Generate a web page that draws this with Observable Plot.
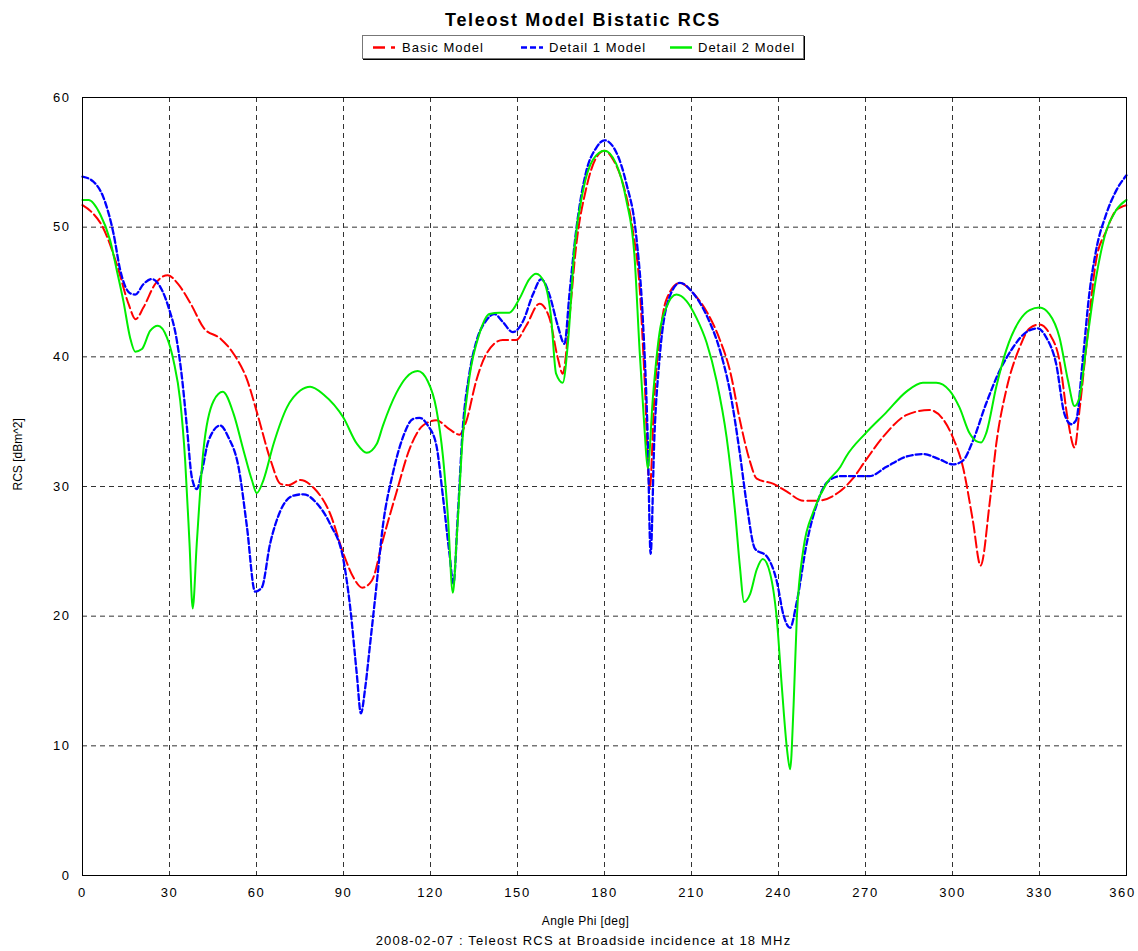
<!DOCTYPE html>
<html>
<head>
<meta charset="utf-8">
<script src="https://cdn.jsdelivr.net/npm/d3@7"></script>
<script src="https://cdn.jsdelivr.net/npm/@observablehq/plot@0.6"></script>
<style>
  html, body { margin: 0; padding: 0; background: #fff; }
  body { width: 1138px; height: 951px; position: relative; font-family: "Liberation Sans", Arial, sans-serif; overflow: hidden; }
  #title { position: absolute; left: 0; top: 10px; width: 1166px; text-align: center; font-weight: bold; font-size: 18px; letter-spacing: 1.7px; color: #000; }
  #legend { position: absolute; left: 362px; top: 35px; width: 440px; height: 22px; border: 1px solid #777; box-shadow: 1px 1px 0 #000; background: #fff; font-size: 13px; letter-spacing: 1px; }
  #legend .item { position: absolute; top: 0; height: 23px; line-height: 23px; white-space: nowrap; }
  #legend svg { position: absolute; top: 0; }
  #chart { position: absolute; left: 0; top: 65px; }
</style>
</head>
<body>
<div id="title">Teleost Model Bistatic RCS</div>
<div id="legend"></div>
<div id="chart"></div>
<script>
// ---- data ----
const xTicks = [0, 30, 60, 90, 120, 150, 180, 210, 240, 270, 300, 330, 360];
const yTicks = [0, 10, 20, 30, 40, 50, 60];

const basicPhi = [0, 3, 7, 12, 16, 18.3, 21, 25, 29.4, 33, 37.3, 41.9, 47.6, 52.2, 56.8, 60.3, 64.9, 68.3, 71, 75.1, 79.7, 85.4, 90, 93.4, 96.5, 99.8, 103.6, 108.2, 112.8, 117.4, 122, 126.6, 130, 132.3, 135.7, 139.2, 144.9, 149.5, 153, 157.6, 161, 163.9, 165.6, 167.9, 170.2, 173.7, 177, 180, 183, 186.3, 189.8, 192.1, 193.8, 195.6, 197.2, 199, 201.3, 206, 210.6, 215.2, 219.8, 223.3, 226.7, 230.2, 232.5, 238.3, 242.9, 248.6, 253.3, 261, 265.6, 270, 277.1, 284, 292, 296.7, 300.1, 303.6, 307, 309.7, 312.8, 315.1, 318.5, 323.1, 326.6, 330, 333.4, 336.9, 339.8, 342.1, 343.8, 346.1, 349.5, 353, 356.4, 360];
const basicRcs = [51.7, 51.2, 50.0, 47.0, 44.0, 42.9, 43.8, 45.6, 46.3, 45.6, 44.1, 42.2, 41.4, 40.2, 38.2, 35.6, 32.0, 30.2, 30.1, 30.5, 29.9, 27.9, 24.8, 23.0, 22.2, 22.75, 25.9, 29.5, 32.9, 34.7, 35.1, 34.4, 34.0, 35.0, 38.1, 40.2, 41.3, 41.3, 42.4, 44.1, 43.0, 39.9, 38.7, 43.0, 48.5, 53.0, 55.3, 55.9, 55.2, 53.4, 49.7, 45.4, 38.4, 29.8, 36.9, 41.4, 44.4, 45.7, 44.9, 43.5, 41.3, 38.9, 35.1, 31.9, 30.6, 30.2, 29.6, 28.9, 28.9, 29.6, 30.6, 32.0, 34.1, 35.5, 35.9, 35.2, 33.8, 31.5, 27.4, 23.9, 28.7, 33.3, 37.4, 40.7, 42.2, 42.5, 41.8, 39.7, 35.1, 33.0, 35.9, 40.7, 47.4, 49.7, 51.3, 51.7];

const detail1Phi = [0, 3.8, 7.2, 10.7, 13, 16.4, 18.2, 21, 23.9, 26.8, 29.7, 32.5, 34.3, 36, 37.7, 39.4, 41.2, 43.4, 47.5, 50.3, 53.8, 56.7, 59.5, 61.8, 64.7, 68.2, 72.8, 76.2, 80.8, 85.4, 90, 92.3, 94.6, 96, 97.5, 99, 101.3, 103.6, 107, 110.5, 113.9, 116.2, 119.1, 122, 124.3, 126.6, 127.9, 129.4, 131.1, 133.4, 135.7, 139.2, 142.1, 144.9, 148.4, 151.8, 155.3, 158.2, 161, 163.9, 166.2, 167.9, 170.2, 173.7, 177.1, 180, 184, 187.5, 190.9, 193.2, 194.9, 195.9, 197.2, 199, 202.4, 206, 210.6, 215.2, 219.8, 223.3, 226.7, 229, 231.9, 236, 239.4, 241.7, 244, 246.3, 249.8, 253.3, 256.7, 261.3, 266.8, 271.4, 277.1, 284, 289.8, 295.5, 300.1, 303.6, 307, 311.6, 316.2, 320.8, 325.4, 329.4, 332.3, 335.7, 338.6, 340.9, 342.6, 344.9, 347.2, 349.5, 353, 356.4, 360];
const detail1Rcs = [53.9, 53.5, 52.3, 49.5, 46.7, 44.9, 44.8, 45.6, 46.0, 45.4, 43.8, 41.3, 38.4, 34.6, 30.7, 29.8, 31.2, 33.5, 34.7, 33.8, 31.5, 26.9, 21.9, 22.2, 25.6, 28.1, 29.3, 29.4, 28.7, 27.1, 24.3, 20.7, 15.5, 12.5, 14.5, 17.5, 22.2, 27.0, 31.0, 33.8, 35.2, 35.3, 34.7, 33.2, 29.2, 24.7, 22.5, 27.7, 34.4, 38.7, 41.1, 42.8, 43.3, 42.7, 41.9, 42.7, 44.8, 46.0, 44.8, 42.4, 41.0, 44.8, 49.7, 54.3, 56.1, 56.7, 55.8, 53.4, 49.4, 43.0, 33.8, 24.8, 33.8, 39.9, 44.6, 45.7, 44.9, 43.2, 40.5, 37.3, 32.5, 28.7, 25.2, 24.6, 22.7, 20.1, 19.1, 21.1, 25.7, 28.7, 30.3, 30.8, 30.8, 30.8, 31.5, 32.3, 32.5, 32.1, 31.7, 32.0, 33.5, 36.4, 38.9, 40.7, 41.9, 42.2, 41.5, 39.5, 35.6, 34.8, 35.1, 39.7, 44.9, 48.2, 51.0, 52.8, 54.0];

const detail2Phi = [0, 2.1, 6.1, 9.5, 11.8, 14.1, 16.4, 18.2, 20.5, 23.3, 26, 29.1, 31.4, 33.7, 35.4, 36.9, 38, 39.4, 41.7, 45.2, 48.4, 52.1, 55.5, 58.4, 60.1, 62.4, 65.9, 70.5, 75.1, 78.5, 83.1, 90, 94.6, 98, 101.5, 103.6, 108.2, 111.6, 115.6, 119.1, 122, 124.3, 126, 127.7, 129.1, 131.1, 133.4, 136.9, 140.3, 143.8, 147.2, 150.7, 154.1, 156.4, 159.3, 161.6, 163.3, 165.6, 167.4, 169.7, 172.5, 176, 180, 184, 187.5, 190.3, 192.1, 193.8, 194.9, 196.7, 199, 201.3, 204.8, 208.3, 211.7, 215.2, 218.7, 222.1, 225, 226.7, 228.1, 230.2, 232.5, 234.6, 237.1, 239.4, 241.2, 242.9, 244, 245.2, 246.3, 248.6, 252.1, 256.7, 261.3, 263.3, 270, 277.1, 284, 289.8, 294.4, 299, 302.4, 305.9, 308.2, 309.9, 311.6, 315.1, 318.5, 323.1, 326.6, 330, 333.4, 336.9, 339.8, 342.1, 343.8, 346.1, 349.5, 353, 356.4, 360];
const detail2Rcs = [52.1, 52.1, 51.0, 49.0, 46.7, 44.3, 41.5, 40.4, 40.6, 42.0, 42.4, 41.5, 39.7, 36.6, 32.0, 25.6, 20.6, 25.6, 32.8, 36.6, 37.3, 35.6, 32.8, 30.5, 29.5, 30.5, 33.3, 36.1, 37.4, 37.7, 37.1, 35.3, 33.3, 32.6, 33.3, 34.7, 37.2, 38.4, 38.9, 38.1, 36.0, 32.3, 27.7, 21.8, 26.2, 33.8, 38.4, 41.8, 43.3, 43.4, 43.4, 44.5, 46.0, 46.4, 45.7, 43.0, 38.7, 38.0, 41.1, 48.5, 52.7, 55.2, 55.9, 54.9, 52.1, 47.9, 40.5, 34.4, 31.4, 36.9, 41.9, 43.8, 44.8, 44.3, 43.0, 41.1, 38.1, 33.8, 28.1, 23.8, 21.1, 21.7, 23.6, 24.4, 23.3, 19.8, 14.4, 9.8, 8.2, 13.1, 19.8, 25.2, 28.1, 30.3, 31.5, 32.3, 34.1, 35.7, 37.3, 38.0, 38.0, 37.4, 36.1, 34.1, 33.5, 33.4, 34.1, 37.7, 40.5, 42.8, 43.6, 43.8, 43.3, 41.5, 38.2, 36.2, 36.9, 40.7, 46.1, 49.7, 51.3, 52.1];

const seriesNames = ["Basic Model", "Detail 1 Model", "Detail 2 Model"];
const seriesColors = ["#ff0000", "#0000ff", "#00ee00"];
const seriesDash = ["11,4", "6,3", null];
const xLabel = "Angle Phi [deg]";
const yLabel = "RCS [dBm^2]";
const captionText = "2008-02-07 : Teleost RCS at Broadside incidence at 18 MHz";

// ---- build ----
const toRows = (phi, rcs) => phi.map((p, i) => ({phi: p, rcs: rcs[i]}));
const series = [toRows(basicPhi, basicRcs), toRows(detail1Phi, detail1Rcs), toRows(detail2Phi, detail2Rcs)];

// legend
const legend = document.getElementById("legend");
const legendPos = [[10, 39], [158, 186], [307, 335]];
seriesNames.forEach((name, i) => {
  const [lx, tx] = legendPos[i];
  const s = document.createElementNS("http://www.w3.org/2000/svg", "svg");
  s.setAttribute("width", 24); s.setAttribute("height", 22);
  s.style.left = lx + "px";
  const ln = document.createElementNS("http://www.w3.org/2000/svg", "line");
  ln.setAttribute("x1", 0); ln.setAttribute("x2", 22); ln.setAttribute("y1", 11.5); ln.setAttribute("y2", 11.5);
  ln.setAttribute("stroke", seriesColors[i]); ln.setAttribute("stroke-width", 2.5);
  if (seriesDash[i]) ln.setAttribute("stroke-dasharray", i === 0 ? "12,6" : "6,3");
  s.appendChild(ln);
  legend.appendChild(s);
  const t = document.createElement("div");
  t.className = "item"; t.style.left = tx + "px"; t.textContent = name;
  legend.appendChild(t);
});

const gridStyle = {stroke: "#333", strokeOpacity: 1, strokeDasharray: "5,4", strokeWidth: 1};

const chart = Plot.plot({
  width: 1138,
  height: 886,
  marginTop: 32,
  marginBottom: 76,
  marginLeft: 82,
  marginRight: 12,
  style: {fontFamily: "'Liberation Sans', Arial, sans-serif", fontSize: "13px", background: "#fff", color: "#000"},
  x: {domain: [0, 360]},
  y: {domain: [0, 60]},
  marks: [
    Plot.gridX(xTicks.slice(1, -1), gridStyle),
    Plot.gridY(yTicks.slice(1, -1), gridStyle),
    ...series.map((rows, i) => Plot.line(rows, {
      x: "phi", y: "rcs", stroke: seriesColors[i], strokeWidth: i === 1 ? 2.3 : 2,
      strokeDasharray: seriesDash[i] || undefined, curve: "monotone-x"
    })),
    Plot.frame({stroke: "#000", strokeWidth: 1}),
    Plot.axisX(xTicks, {tickSize: 0, tickPadding: 12, label: null, fontSize: 13}),
    Plot.axisY(yTicks, {tickSize: 0, tickPadding: 12, label: null, fontSize: 13}),
    Plot.text([xLabel], {frameAnchor: "bottom", lineAnchor: "middle", dy: 46, dx: -19, fontSize: 12}),
    Plot.text([captionText], {frameAnchor: "bottom", lineAnchor: "middle", dy: 65, dx: -21, fontSize: 13}),
    Plot.text([yLabel], {frameAnchor: "left", rotate: -90, dx: -64, dy: 4, fontSize: 12})
  ]
});
document.getElementById("chart").appendChild(chart);

// widen letter spacing to match the reference's spaced-out lettering
const svg = d3.select(chart.tagName.toLowerCase() === "svg" ? chart : chart.querySelector("svg"));
svg.selectAll("g[aria-label='x-axis tick label'] text")
  .attr("letter-spacing", "1.6px")
  .each(function () { if (this.textContent === "360") d3.select(this).attr("dx", "-4"); });
svg.selectAll("g[aria-label='y-axis tick label'] text").attr("letter-spacing", "1.5px");
svg.selectAll("text").each(function () {
  const t = this.textContent;
  if (t === captionText) d3.select(this).attr("letter-spacing", "1.2px");
  if (t === xLabel) d3.select(this).attr("letter-spacing", "0.4px");
});
</script>
</body>
</html>
